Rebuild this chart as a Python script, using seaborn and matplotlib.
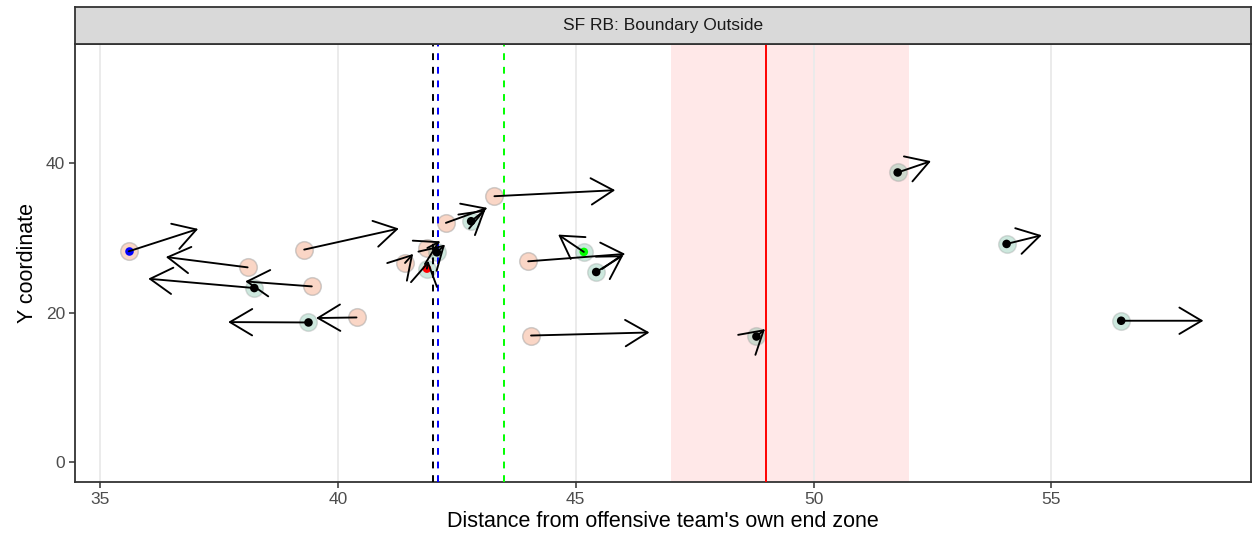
"""
play frame: player positions with movement arrows
"""

import matplotlib
matplotlib.use("Agg")
import matplotlib.pyplot as plt
import pandas as pd
import seaborn as sns

# offense-side (peach) players and where they are heading
peach_x = [35.60, 38.10, 39.45, 39.29, 40.39, 41.41, 41.88, 42.27, 43.29, 44.00, 44.06]
peach_y = [28.23, 26.08, 23.53, 28.46, 19.37, 26.67, 28.68, 32.04, 35.61, 26.89, 16.95]
peach_xend = [37.06, 36.38, 38.05, 41.28, 39.54, 41.58, 42.15, 43.14, 45.83, 46.04, 46.55]
peach_yend = [31.23, 27.47, 24.20, 31.28, 19.29, 27.88, 29.57, 34.05, 36.42, 27.88, 17.36]

# other side (green) players, each with a dot in the middle
green_x = [38.24, 39.38, 41.87, 42.08, 42.80, 45.17, 45.43, 48.80, 51.77, 54.06, 56.47]
green_y = [23.31, 18.70, 25.91, 28.10, 32.26, 28.15, 25.46, 16.82, 38.79, 29.22, 18.93]
green_xend = [36.01, 37.69, 41.90, 42.25, 43.10, 44.63, 46.00, 48.98, 52.47, 54.80, 58.20]
green_yend = [24.56, 18.75, 26.95, 29.13, 33.80, 30.47, 27.70, 17.81, 40.31, 30.38, 18.93]
green_dot = ["black", "black", "red", "black", "black", "lime", "black",
             "black", "black", "black", "black"]

# the one marked peach player
marked_x = [35.60]
marked_y = [28.23]

# reference lines
scrimmage = 42.0
ball_line = 42.1
first_down = 43.5
target = 49.0
zone = [47.0, 52.0]

facet = "SF RB: Boundary Outside"

sns.set_theme(style="white")
plt.rcParams['font.family'] = ['Liberation Sans', 'DejaVu Sans']

W, H = 1254, 541
fig = plt.figure(figsize=(W / 100, H / 100), dpi=100)
ax = fig.add_axes([75 / W, 1 - 482 / H, 1176 / W, 438 / H])
strip = fig.add_axes([75 / W, 1 - 44 / H, 1176 / W, 37 / H])

peach = pd.DataFrame({'x': peach_x, 'y': peach_y})
green = pd.DataFrame({'x': green_x, 'y': green_y, 'dot': green_dot})

ax.axvspan(zone[0], zone[1], color='red', alpha=0.09, lw=0, zorder=0)

sns.scatterplot(data=peach, x='x', y='y', ax=ax, s=160, color='#F4A582', alpha=0.45,
                edgecolor='#999999', linewidth=1.1, zorder=2, legend=False)
sns.scatterplot(data=green, x='x', y='y', ax=ax, s=160, color='#4DAF8A', alpha=0.28,
                edgecolor='#888888', linewidth=1.1, zorder=2, legend=False)

ax.axvline(scrimmage, color='black', ls=(0, (3.5, 3.5)), lw=1.4, zorder=3)
ax.axvline(ball_line, color='blue', ls=(0, (3.5, 3.5)), lw=1.4, zorder=3)
ax.axvline(first_down, color='lime', ls=(0, (3.5, 3.5)), lw=1.4, zorder=3)
ax.axvline(target, color='red', lw=1.4, zorder=3)

sns.scatterplot(data=green, x='x', y='y', ax=ax, s=38, hue='dot',
                palette={c: c for c in set(green_dot)}, linewidth=0, zorder=4, legend=False)
sns.scatterplot(x=marked_x, y=marked_y, ax=ax, s=38, color='blue', linewidth=0, zorder=4)

for xs, ys, xe, ye in [(peach_x, peach_y, peach_xend, peach_yend),
                       (green_x, green_y, green_xend, green_yend)]:
    for x0, y0, x1, y1 in zip(xs, ys, xe, ye):
        ax.annotate("", xy=(x1, y1), xytext=(x0, y0),
                    arrowprops=dict(arrowstyle="->,head_length=1.6,head_width=0.95",
                                    color='black', lw=1.35, shrinkA=0, shrinkB=0,
                                    mutation_scale=10), zorder=5)

ax.set_xlim(34.47, 59.2)
ax.set_ylim(-2.67, 56.0)
ax.set_xticks([35, 40, 45, 50, 55])
ax.set_yticks([0, 20, 40])
ax.grid(axis='x', color='#EBEBEB', lw=1.4)
ax.grid(axis='y', visible=False)
ax.set_axisbelow(True)
for sp in ax.spines.values():
    sp.set_color('#333333')
    sp.set_linewidth(1.3)
ax.tick_params(axis='both', length=4, width=1.1, color='#333333',
               labelcolor='#4D4D4D', labelsize=12.5, bottom=True, left=True, pad=3)
ax.set_xlabel("Distance from offensive team's own end zone", fontsize=15.5, color='black', labelpad=3)
ax.set_ylabel("Y coordinate", fontsize=15.5, color='black', labelpad=6)

strip.set_facecolor('#D9D9D9')
strip.set_xticks([])
strip.set_yticks([])
for sp in strip.spines.values():
    sp.set_color('#333333')
    sp.set_linewidth(1.3)
strip.text(0.5, 0.5, facet, ha='center', va='center', fontsize=12.5, color='#1A1A1A',
           transform=strip.transAxes)

fig.savefig('out.png', dpi=100)
